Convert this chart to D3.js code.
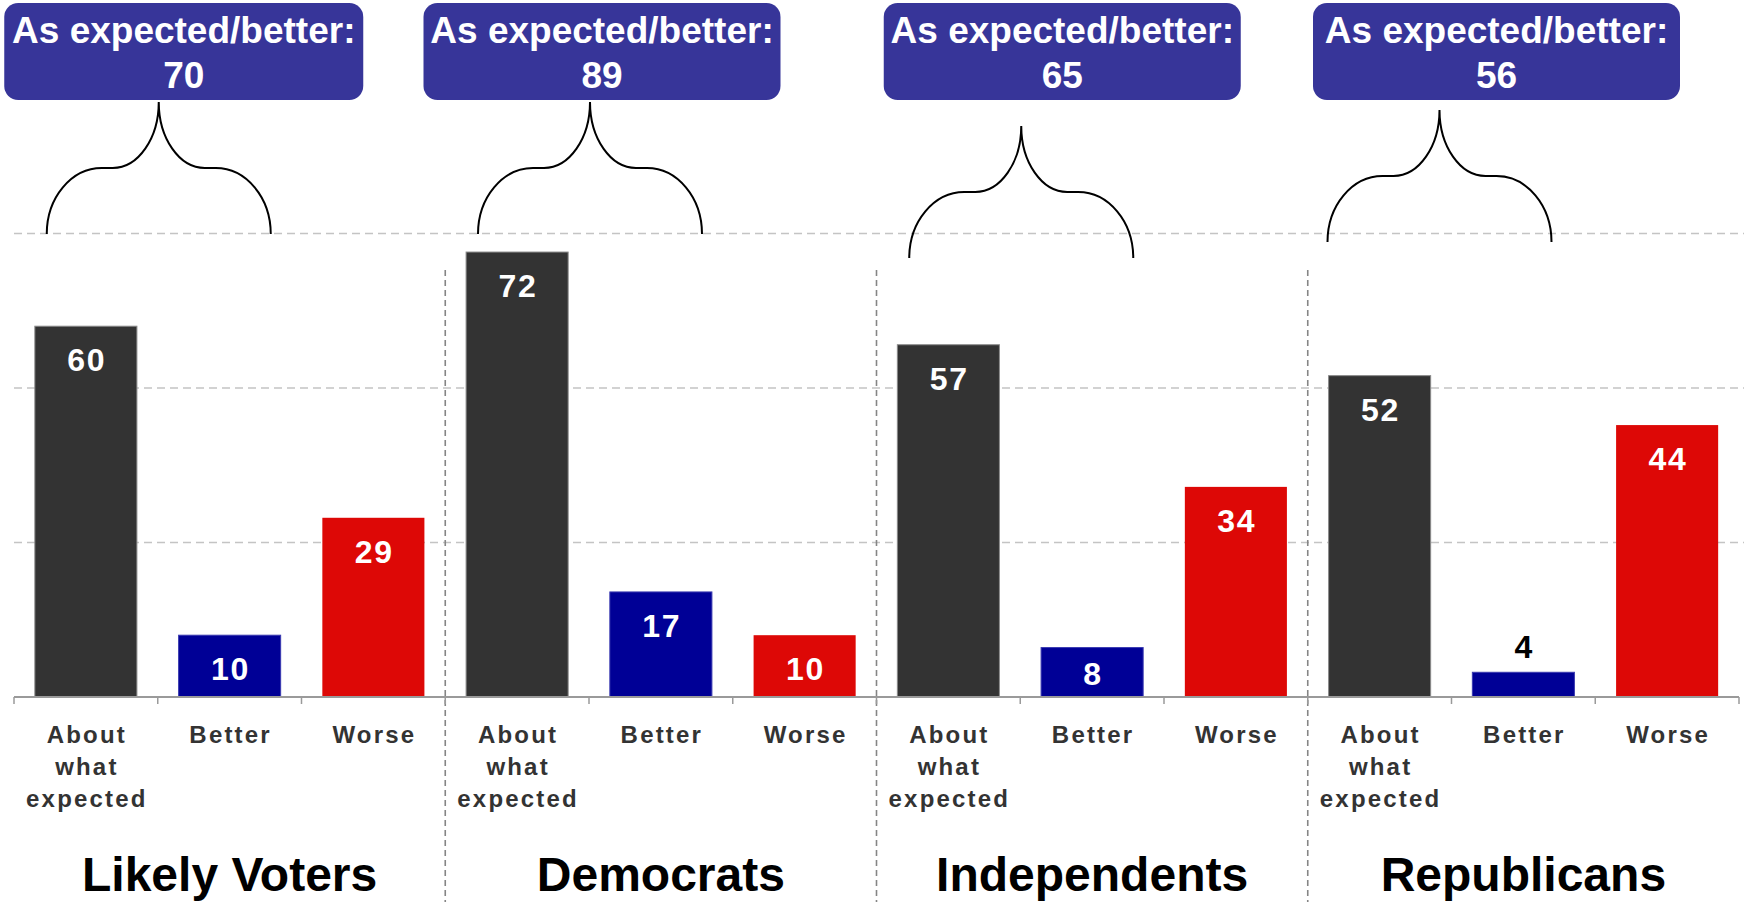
<!DOCTYPE html>
<html>
<head>
<meta charset="utf-8">
<script src="https://cdn.jsdelivr.net/npm/d3@7"></script>
<style>
  html, body { margin: 0; padding: 0; background: #fff; }
  svg { display: block; }
  text { font-family: "Liberation Sans", Arial, Helvetica, sans-serif; }
</style>
</head>
<body>
<svg id="chart" width="1744" height="902"></svg>
<script>
// ---- data ----
const groups = ["Likely Voters", "Democrats", "Independents", "Republicans"];
const categories = ["About what expected", "Better", "Worse"];
const categoryLabelLines = [["About", "what", "expected"], ["Better"], ["Worse"]];
const aboutWhatExpected = [60, 72, 57, 52];
const better = [10, 17, 8, 4];
const worse = [29, 10, 34, 44];
const asExpectedOrBetter = [70, 89, 65, 56];
const calloutLabel = "As expected/better:";
const yTicks = [25, 50, 75];

// ---- styles / layout ----
const colors = ["#333333", "#000096", "#DD0806"];
const strokes = ["#8a8a8a", "#3a3ab0", "none"];
const boxFill = "#373599";
// per-group layout tweaks for callouts (box center offset from brace tip, brace vertical shift)
const boxCenterShift = [25, 12, 41, 57];
const boxWidth = [359, 357, 357, 367];
const braceTipShift = [0, 0, 0, -13];
const braceTopY = [102, 102, 126, 110];

const W = 1744, H = 902;
const axisY = 697;
const svg = d3.select("#chart");

const x0 = d3.scaleBand().domain(groups).range([14, 1739]).padding(0);
const x1 = d3.scaleBand().domain(categories).range([0, x0.bandwidth()])
  .paddingInner(0.29).paddingOuter(0.145);
const y = d3.scaleLinear().domain([0, 75]).range([axisY, 233.5]);

const seriesByCat = [aboutWhatExpected, better, worse];

// gridlines
svg.append("g").selectAll("line").data(yTicks).join("line")
  .attr("x1", 14).attr("x2", W)
  .attr("y1", d => y(d)).attr("y2", d => y(d))
  .attr("stroke", "#c4c4c4").attr("stroke-width", 1.5)
  .attr("stroke-dasharray", "8,5");

// vertical separators between groups
svg.append("g").selectAll("line").data(groups.slice(1)).join("line")
  .attr("x1", d => x0(d)).attr("x2", d => x0(d))
  .attr("y1", 270).attr("y2", H)
  .attr("stroke", "#858585").attr("stroke-width", 1.6)
  .attr("stroke-dasharray", "6,4");

// bars
const cells = [];
groups.forEach((g, gi) => categories.forEach((c, ci) => {
  cells.push({ g, gi, c, ci, v: seriesByCat[ci][gi] });
}));

svg.append("g").selectAll("rect").data(cells).join("rect")
  .attr("x", d => x0(d.g) + x1(d.c))
  .attr("y", d => y(d.v))
  .attr("width", x1.bandwidth())
  .attr("height", d => axisY - y(d.v))
  .attr("fill", d => colors[d.ci])
  .attr("stroke", d => strokes[d.ci])
  .attr("stroke-width", 1);

// value labels
svg.append("g").selectAll("text").data(cells).join("text")
  .attr("x", d => x0(d.g) + x1(d.c) + x1.bandwidth() / 2 + 0.75)
  .attr("y", d => {
    const h = axisY - y(d.v);
    if (h < 40) return y(d.v) - 14;
    return Math.min(y(d.v) + 45, axisY - 12);
  })
  .attr("text-anchor", "middle")
  .attr("font-size", 32).attr("font-weight", "bold")
  .attr("letter-spacing", 1.5)
  .attr("fill", d => (axisY - y(d.v) < 40) ? "#000" : "#fff")
  .text(d => d.v);

// axis line + ticks at slot boundaries
const boundaries = [];
groups.forEach(g => categories.forEach((c, ci) => {
  boundaries.push(x0(g) + ci * x1.step());
}));
boundaries.push(x0.range()[1]);
const ax = svg.append("g");
ax.append("line").attr("x1", 14).attr("x2", 1739).attr("y1", axisY).attr("y2", axisY)
  .attr("stroke", "#9a9a9a").attr("stroke-width", 2);
ax.selectAll("line.tick").data(boundaries).join("line").attr("class", "tick")
  .attr("x1", d => d).attr("x2", d => d)
  .attr("y1", axisY).attr("y2", axisY + 7)
  .attr("stroke", "#9a9a9a").attr("stroke-width", 1.5);

// category labels
const catLabels = [];
groups.forEach(g => categories.forEach((c, ci) => catLabels.push({ g, c, ci })));
const cl = svg.append("g").selectAll("text").data(catLabels).join("text")
  .attr("text-anchor", "middle")
  .attr("font-size", 24).attr("font-weight", "bold")
  .attr("letter-spacing", 2.2)
  .attr("fill", "#333333");
cl.each(function (d) {
  const cx = x0(d.g) + x1(d.c) + x1.bandwidth() / 2 + 1;
  d3.select(this).selectAll("tspan").data(categoryLabelLines[d.ci]).join("tspan")
    .attr("x", cx).attr("y", (t, i) => 743 + i * 32).text(t => t);
});

// group titles
svg.append("g").selectAll("text").data(groups).join("text")
  .attr("x", d => x0(d) + x0.bandwidth() / 2)
  .attr("y", 891)
  .attr("text-anchor", "middle")
  .attr("font-size", 48).attr("font-weight", "bold")
  .attr("fill", "#000")
  .text(d => d);

// braces + callout boxes
function bracePath(tip, yt) {
  const half = 112, a = 55, b = 46, h = 66;
  const ym = yt + h, yb = yt + 2 * h, k = 0.552;
  const xl = tip - half, xr = tip + half;
  return [
    `M${xl},${yb}`,
    `C${xl},${yb - k * h} ${xl + a * (1 - k)},${ym} ${xl + a},${ym}`,
    `L${tip - b},${ym}`,
    `C${tip - b + k * b},${ym} ${tip},${ym - (1 - k) * h} ${tip},${yt}`,
    `C${tip},${ym - (1 - k) * h} ${tip + b - k * b},${ym} ${tip + b},${ym}`,
    `L${xr - a},${ym}`,
    `C${xr - a * (1 - k)},${ym} ${xr},${yb - k * h} ${xr},${yb}`
  ].join(" ");
}

const callouts = groups.map((g, gi) => {
  const tip = x0(g) + x1.step() + 1 + braceTipShift[gi];
  return { g, gi, tip, val: asExpectedOrBetter[gi] };
});

svg.append("g").selectAll("path").data(callouts).join("path")
  .attr("d", d => bracePath(d.tip, braceTopY[d.gi]))
  .attr("fill", "none").attr("stroke", "#000").attr("stroke-width", 2);

const box = svg.append("g").selectAll("g").data(callouts).join("g")
  .attr("transform", d => `translate(${d.tip + boxCenterShift[d.gi]},0)`);
box.append("rect")
  .attr("x", d => -boxWidth[d.gi] / 2).attr("y", 3)
  .attr("width", d => boxWidth[d.gi]).attr("height", 97)
  .attr("rx", 14).attr("ry", 14)
  .attr("fill", boxFill);
box.append("text")
  .attr("x", 0).attr("y", 43)
  .attr("text-anchor", "middle")
  .attr("font-size", 37).attr("font-weight", "bold").attr("fill", "#fff")
  .text(calloutLabel);
box.append("text")
  .attr("x", 0).attr("y", 88)
  .attr("text-anchor", "middle")
  .attr("font-size", 37).attr("font-weight", "bold").attr("fill", "#fff")
  .text(d => d.val);
</script>
</body>
</html>
